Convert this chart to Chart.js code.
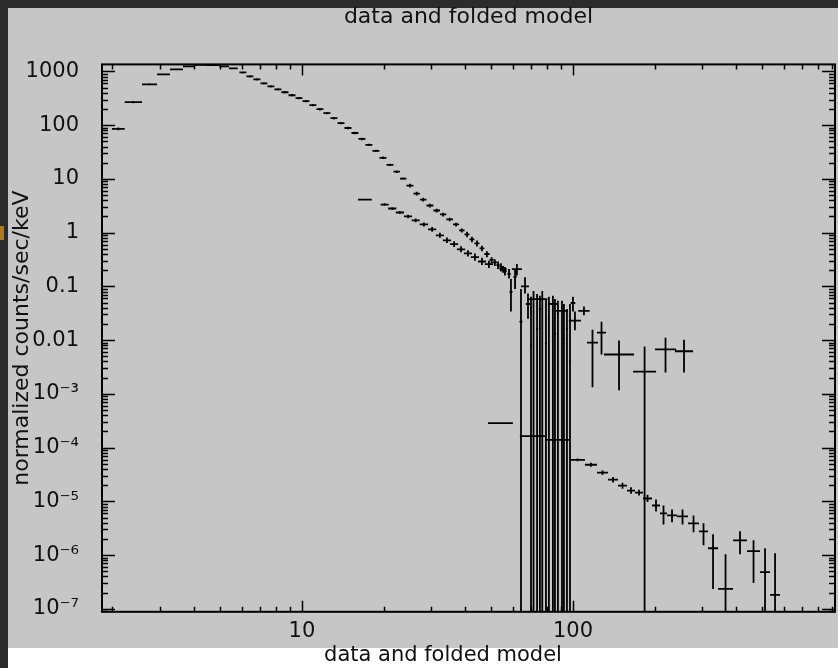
<!DOCTYPE html>
<html>
<head>
<meta charset="utf-8">
<script src="https://cdn.jsdelivr.net/npm/chart.js@4.4.1/dist/chart.umd.min.js"></script>
<style>
  html, body { margin: 0; padding: 0; background: #2b2b2b; }
  #wrap { width: 838px; height: 668px; }
</style>
</head>
<body>
<div id="wrap"><canvas id="spec" width="838" height="668"></canvas></div>
<script>
// texts
const TITLE = 'data and folded model';
const XTITLE = 'data and folded model';
const YTITLE = 'normalized counts/sec/keV';

// axis ticks
const xDecades = [1, 10, 100];
const xLabelValues = [10, 100];
const xLabelTexts = ['10', '100'];
const yLabelValues = [1e-7, 1e-6, 1e-5, 1e-4, 1e-3, 0.01, 0.1, 1, 10, 100, 1000];
const yLabelTexts = ['10⁻⁷', '10⁻⁶', '10⁻⁵', '10⁻⁴', '10⁻³', '0.01', '0.1', '1', '10', '100', '1000'];
const minorSteps = [2, 3, 4, 5, 6, 7, 8, 9];

// spectrum 1 (high counts, 2 - 100 keV): bin edges (keV), rate, error range
const aLo = [1.99, 2.22, 2.57, 2.92, 3.26, 3.64, 4.03, 4.46, 4.95, 5.38,
  5.88, 6.24, 6.62, 7.03, 7.46, 7.91, 8.40, 8.92, 9.47, 10.05,
  10.66, 11.31, 12.0, 12.74, 13.52, 14.35, 15.23, 16.16, 17.15, 18.2,
  19.32, 20.51, 21.76, 23.0, 24.3, 25.8, 27.25, 28.8, 30.55, 32.3,
  34.1, 36.1, 38.0, 39.8, 41.5, 43.3, 45.2, 47.1, 49.2,
  50.6, 52.2, 53.5, 55.2, 57.3, 58.3, 60.3, 63.5,
  69.4, 73.0, 74.8, 78.8, 80.8, 85.0, 87.2, 91.8, 94.2, 96.7];
const aHi = [2.22, 2.57, 2.92, 3.26, 3.64, 4.03, 4.46, 4.95, 5.38, 5.80,
  6.24, 6.62, 7.03, 7.46, 7.91, 8.40, 8.92, 9.47, 10.05, 10.66,
  11.31, 12.0, 12.74, 13.52, 14.35, 15.23, 16.16, 17.15, 18.2, 19.32,
  20.51, 21.76, 23.0, 24.3, 25.8, 27.25, 28.8, 30.55, 32.3, 34.1,
  36.1, 38.0, 39.8, 41.5, 43.3, 45.2, 47.1, 49.2, 51.0,
  52.4, 53.6, 55.0, 57.0, 58.9, 59.8, 62.0, 65.1,
  70.6, 74.4, 76.2, 80.2, 82.2, 86.6, 88.8, 93.4, 95.8, 98.3];
const aY = [85, 267, 575, 880, 1090, 1240, 1320, 1310, 1240, 1140,
  958, 808, 711, 600, 528, 465, 409, 360, 317, 279,
  235, 198, 167, 135, 109, 88.4, 71.4, 55.3, 42.9, 33.2,
  24.7, 18.3, 13.6, 10.1, 7.48, 5.33, 4.13, 3.20, 2.58, 2.18,
  1.76, 1.42, 1.10, 0.93, 0.75, 0.63, 0.51, 0.40, 0.31,
  0.28, 0.25, 0.23, 0.19, 0.17, 0.079, 0.15, 0.022,
  0.0079, 0.0163, 0.038, 0.0086, 0.025, 0.0132, 0.031, 0.0107, 0.0163, 0.0040];
const aYlo = [80, 255, 550, 845, 1050, 1195, 1275, 1265, 1195, 1100,
  915, 770, 678, 572, 503, 443, 390, 343, 302, 266,
  224, 188, 159, 128, 104, 84, 68, 52.5, 40.8, 31.5,
  23.5, 17.4, 12.9, 9.6, 6.9, 4.9, 3.8, 2.94, 2.37, 2.0,
  1.62, 1.3, 1.01, 0.82, 0.66, 0.55, 0.45, 0.35, 0.27,
  0.24, 0.21, 0.19, 0.16, 0.14, 0.034, 0.089, 0,
  0, 0, 0, 0, 0, 0, 0, 0, 0, 0];
const aYhi = [90, 280, 600, 915, 1130, 1285, 1365, 1355, 1285, 1180,
  1000, 848, 745, 630, 554, 488, 430, 378, 333, 293,
  247, 208, 175, 142, 114, 93, 75, 58, 45, 34.9,
  26, 19.2, 14.3, 10.6, 8.1, 5.75, 4.46, 3.46, 2.79, 2.35,
  1.9, 1.53, 1.19, 1.04, 0.84, 0.71, 0.57, 0.45, 0.35,
  0.32, 0.29, 0.27, 0.23, 0.21, 0.137, 0.21, 0.089,
  0.064, 0.072, 0.067, 0.058, 0.064, 0.058, 0.054, 0.047, 0.038, 0.047];

// spectrum 2 (16 - 280 keV)
const bLo = [16.1, 19.5, 20.8, 22.2, 23.8, 25.4, 27.2, 29.2, 31.2, 33.1, 35.2, 37.3, 39.6, 42.0, 44.6, 47.3,
  53.5, 59.5, 64.3, 67.0, 68.2, 73.7, 80.8, 86.6,
  98.0, 96.6, 104.6, 112.6, 122.6, 130.1, 166.6, 200.7, 237.9];
const bHi = [18.1, 20.9, 22.3, 23.8, 25.5, 27.2, 29.2, 31.3, 33.4, 35.5, 37.7, 40.0, 42.4, 45.0, 47.8, 50.7,
  57.0, 64.8, 68.8, 69.5, 75.0, 80.5, 88.0, 95.8,
  102.0, 107.0, 115.2, 123.7, 132.4, 168.0, 202.6, 240.0, 277.3];
const bY = [4.13, 3.33, 2.81, 2.37, 2.0, 1.69, 1.42, 1.15, 0.89, 0.72, 0.61, 0.49, 0.41, 0.35, 0.29, 0.26,
  0.21, 0.21, 0.10, 0.047, 0.058, 0.058, 0.047, 0.035,
  0.049, 0.023, 0.035, 0.009, 0.0138, 0.0054, 0.0026, 0.0067, 0.0062];
const bYlo = [4.0, 3.15, 2.65, 2.22, 1.86, 1.56, 1.3, 1.04, 0.8, 0.64, 0.54, 0.43, 0.36, 0.3, 0.25, 0.22,
  0.18, 0.16, 0.074, 0.025, 0, 0, 0, 0,
  0.034, 0.0152, 0.029, 0.00132, 0.0054, 0.00117, 0, 0.0025, 0.0025];
const bYhi = [4.27, 3.52, 2.98, 2.53, 2.15, 1.83, 1.55, 1.27, 0.99, 0.81, 0.69, 0.56, 0.47, 0.41, 0.34, 0.3,
  0.24, 0.26, 0.148, 0.074, 0.082, 0.082, 0.067, 0.054,
  0.064, 0.034, 0.042, 0.0156, 0.022, 0.0098, 0.0076, 0.0111, 0.0102];

// spectrum 3 (faint, 50 - 580 keV)
const cLo = [48.6, 63.7, 78.8, 97.5, 110.7, 122.6, 134.7, 146.6, 158.2, 169.4, 181.3, 195.7,
  209.4, 222.3, 242.0, 265.7, 291.7, 314.9, 342.9, 389.4, 438.6, 489.8, 533.4];
const cHi = [60.0, 78.8, 97.5, 110.7, 122.6, 134.7, 146.6, 158.2, 169.4, 181.3, 195.7, 209.4,
  222.3, 242.0, 265.7, 291.7, 314.9, 342.9, 389.4, 438.6, 489.8, 533.4, 580.6];
const cY = [2.86e-4, 1.64e-4, 1.39e-4, 5.92e-5, 4.79e-5, 3.41e-5, 2.53e-5, 1.96e-5, 1.58e-5, 1.45e-5, 1.13e-5, 8.36e-6,
  5.95e-6, 5.46e-6, 5.23e-6, 3.89e-6, 2.77e-6, 1.34e-6, 2.34e-7, 1.88e-6, 1.18e-6, 4.83e-7, 1.82e-7];
const cYlo = [2.8e-4, 1.6e-4, 1.36e-4, 5.6e-5, 4.4e-5, 3.1e-5, 2.25e-5, 1.72e-5, 1.38e-5, 1.28e-5, 9.7e-6, 6.47e-6,
  3.72e-6, 4.06e-6, 3.72e-6, 2.65e-6, 1.52e-6, 2.34e-7, 0, 1.04e-6, 3.03e-7, 0, 0];
const cYhi = [2.92e-4, 1.68e-4, 1.42e-4, 6.3e-5, 5.2e-5, 3.75e-5, 2.85e-5, 2.22e-5, 1.82e-5, 1.65e-5, 1.32e-5, 1.08e-5,
  8.36e-6, 7.05e-6, 7.05e-6, 5.46e-6, 3.89e-6, 2.43e-6, 1.04e-6, 2.77e-6, 1.88e-6, 1.34e-6, 1.08e-6];

const X_MIN = 1.83, X_MAX = 926;
const Y_MIN = 8.8e-8, Y_MAX = 1350;
const FLOOR = 1e-9; // lower error that runs off the bottom

// one cross per bin: horizontal bin width + vertical error, gaps between
function errorBars(lo, hi, y, ylo, yhi) {
  const pts = [];
  y.forEach((v, i) => {
    const c = Math.sqrt(lo[i] * hi[i]);
    pts.push({ x: lo[i], y: v }, { x: hi[i], y: v }, { x: c, y: null });
    pts.push({ x: c, y: ylo[i] || FLOOR }, { x: c, y: yhi[i] }, { x: c, y: null });
  });
  return pts;
}

function logTicks(decades, lo, hi) {
  const out = [];
  decades.forEach(d => {
    [1].concat(minorSteps).forEach(m => {
      const v = d * m;
      if (v >= lo && v <= hi) out.push({ value: v, major: m === 1 });
    });
  });
  return out;
}

const series = (lo, hi, y, ylo, yhi) => ({
  data: errorBars(lo, hi, y, ylo, yhi),
  showLine: true,
  spanGaps: false,
  borderColor: '#000',
  borderWidth: 1.8,
  pointRadius: 0,
  clip: 0
});

const backdrop = {
  id: 'backdrop',
  beforeDraw(chart) {
    const { ctx, width, height } = chart;
    ctx.save();
    ctx.fillStyle = '#2b2b2b';
    ctx.fillRect(0, 0, width, height);
    ctx.fillStyle = '#b07a1c';
    ctx.fillRect(0, 226, 4, 14);
    ctx.fillStyle = '#c6c6c6';
    ctx.fillRect(8, 8, width - 8, 640);
    ctx.fillStyle = '#ffffff';
    ctx.fillRect(8, 648, width - 8, height - 648);
    ctx.restore();
  }
};

// the x-axis caption sits left of the plot centre in the original
const captionShift = {
  id: 'captionShift',
  afterLayout(chart) {
    chart.boxes.forEach(b => {
      if (b.position === 'bottom' && b.options && b.options.text === XTITLE && !b.axis) {
        b.left += 51;
        b.width = b.right - b.left;
      }
    });
  }
};

// IDL style frame with inward ticks on all four sides
const frame = {
  id: 'frame',
  afterDraw(chart) {
    const { ctx, chartArea: a, scales: { x, y } } = chart;
    ctx.save();
    ctx.strokeStyle = '#000';
    ctx.lineWidth = 1.5;
    ctx.beginPath();
    x.ticks.forEach(t => {
      const p = Math.round(x.getPixelForValue(t.value)) + 0.5;
      const len = t.major ? 11 : 5;
      ctx.moveTo(p, a.bottom); ctx.lineTo(p, a.bottom - len);
      ctx.moveTo(p, a.top); ctx.lineTo(p, a.top + len);
    });
    y.ticks.forEach(t => {
      const p = Math.round(y.getPixelForValue(t.value)) + 0.5;
      const len = t.major ? 13 : 6;
      ctx.moveTo(a.left, p); ctx.lineTo(a.left + len, p);
      ctx.moveTo(a.right, p); ctx.lineTo(a.right - len, p);
    });
    ctx.stroke();
    ctx.lineWidth = 2;
    ctx.strokeRect(a.left, a.top, a.right - a.left, a.bottom - a.top);
    ctx.restore();
  }
};

Chart.defaults.font.family = '"DejaVu Sans", sans-serif';
Chart.defaults.color = '#111';

new Chart(document.getElementById('spec'), {
  type: 'scatter',
  data: {
    datasets: [
      series(aLo, aHi, aY, aYlo, aYhi),
      series(bLo, bHi, bY, bYlo, bYhi),
      series(cLo, cHi, cY, cYlo, cYhi)
    ]
  },
  options: {
    responsive: false,
    animation: false,
    events: [],
    layout: { padding: { left: 0, right: 3, top: 0, bottom: 0 } },
    plugins: {
      legend: { display: false },
      tooltip: { enabled: false },
      title: {
        display: true,
        text: TITLE,
        fullSize: false,
        font: { size: 22, weight: 'normal' },
        color: '#111',
        padding: { top: 4, bottom: 34 }
      },
      subtitle: {
        display: true,
        position: 'bottom',
        text: XTITLE,
        font: { size: 21 },
        color: '#111',
        padding: { top: 0, bottom: 0 }
      }
    },
    scales: {
      x: {
        type: 'logarithmic',
        min: X_MIN,
        max: X_MAX,
        grid: { display: false },
        border: { display: false },
        afterBuildTicks: s => { s.ticks = logTicks(xDecades, X_MIN, X_MAX); },
        afterFit: s => { s.height = 31; },
        ticks: {
          autoSkip: false,
          maxRotation: 0,
          padding: -1,
          font: { size: 21 },
          color: '#111',
          callback: v => {
            const i = xLabelValues.indexOf(v);
            return i < 0 ? '' : xLabelTexts[i];
          }
        }
      },
      y: {
        type: 'logarithmic',
        min: Y_MIN,
        max: Y_MAX,
        grid: { display: false },
        border: { display: false },
        afterBuildTicks: s => { s.ticks = logTicks([1e-8].concat(yLabelValues), Y_MIN, Y_MAX); },
        afterFit: s => { s.width = 102; },
        title: {
          display: true,
          text: YTITLE,
          font: { size: 22 },
          color: '#111',
          padding: { top: 8.8, bottom: 0 }
        },
        ticks: {
          autoSkip: false,
          padding: 15,
          font: { size: 21 },
          color: '#111',
          callback: v => {
            const i = yLabelValues.findIndex(d => Math.abs(d - v) / d < 1e-6);
            return i < 0 ? '' : yLabelTexts[i];
          }
        }
      }
    }
  },
  plugins: [backdrop, captionShift, frame]
});
</script>
</body>
</html>
